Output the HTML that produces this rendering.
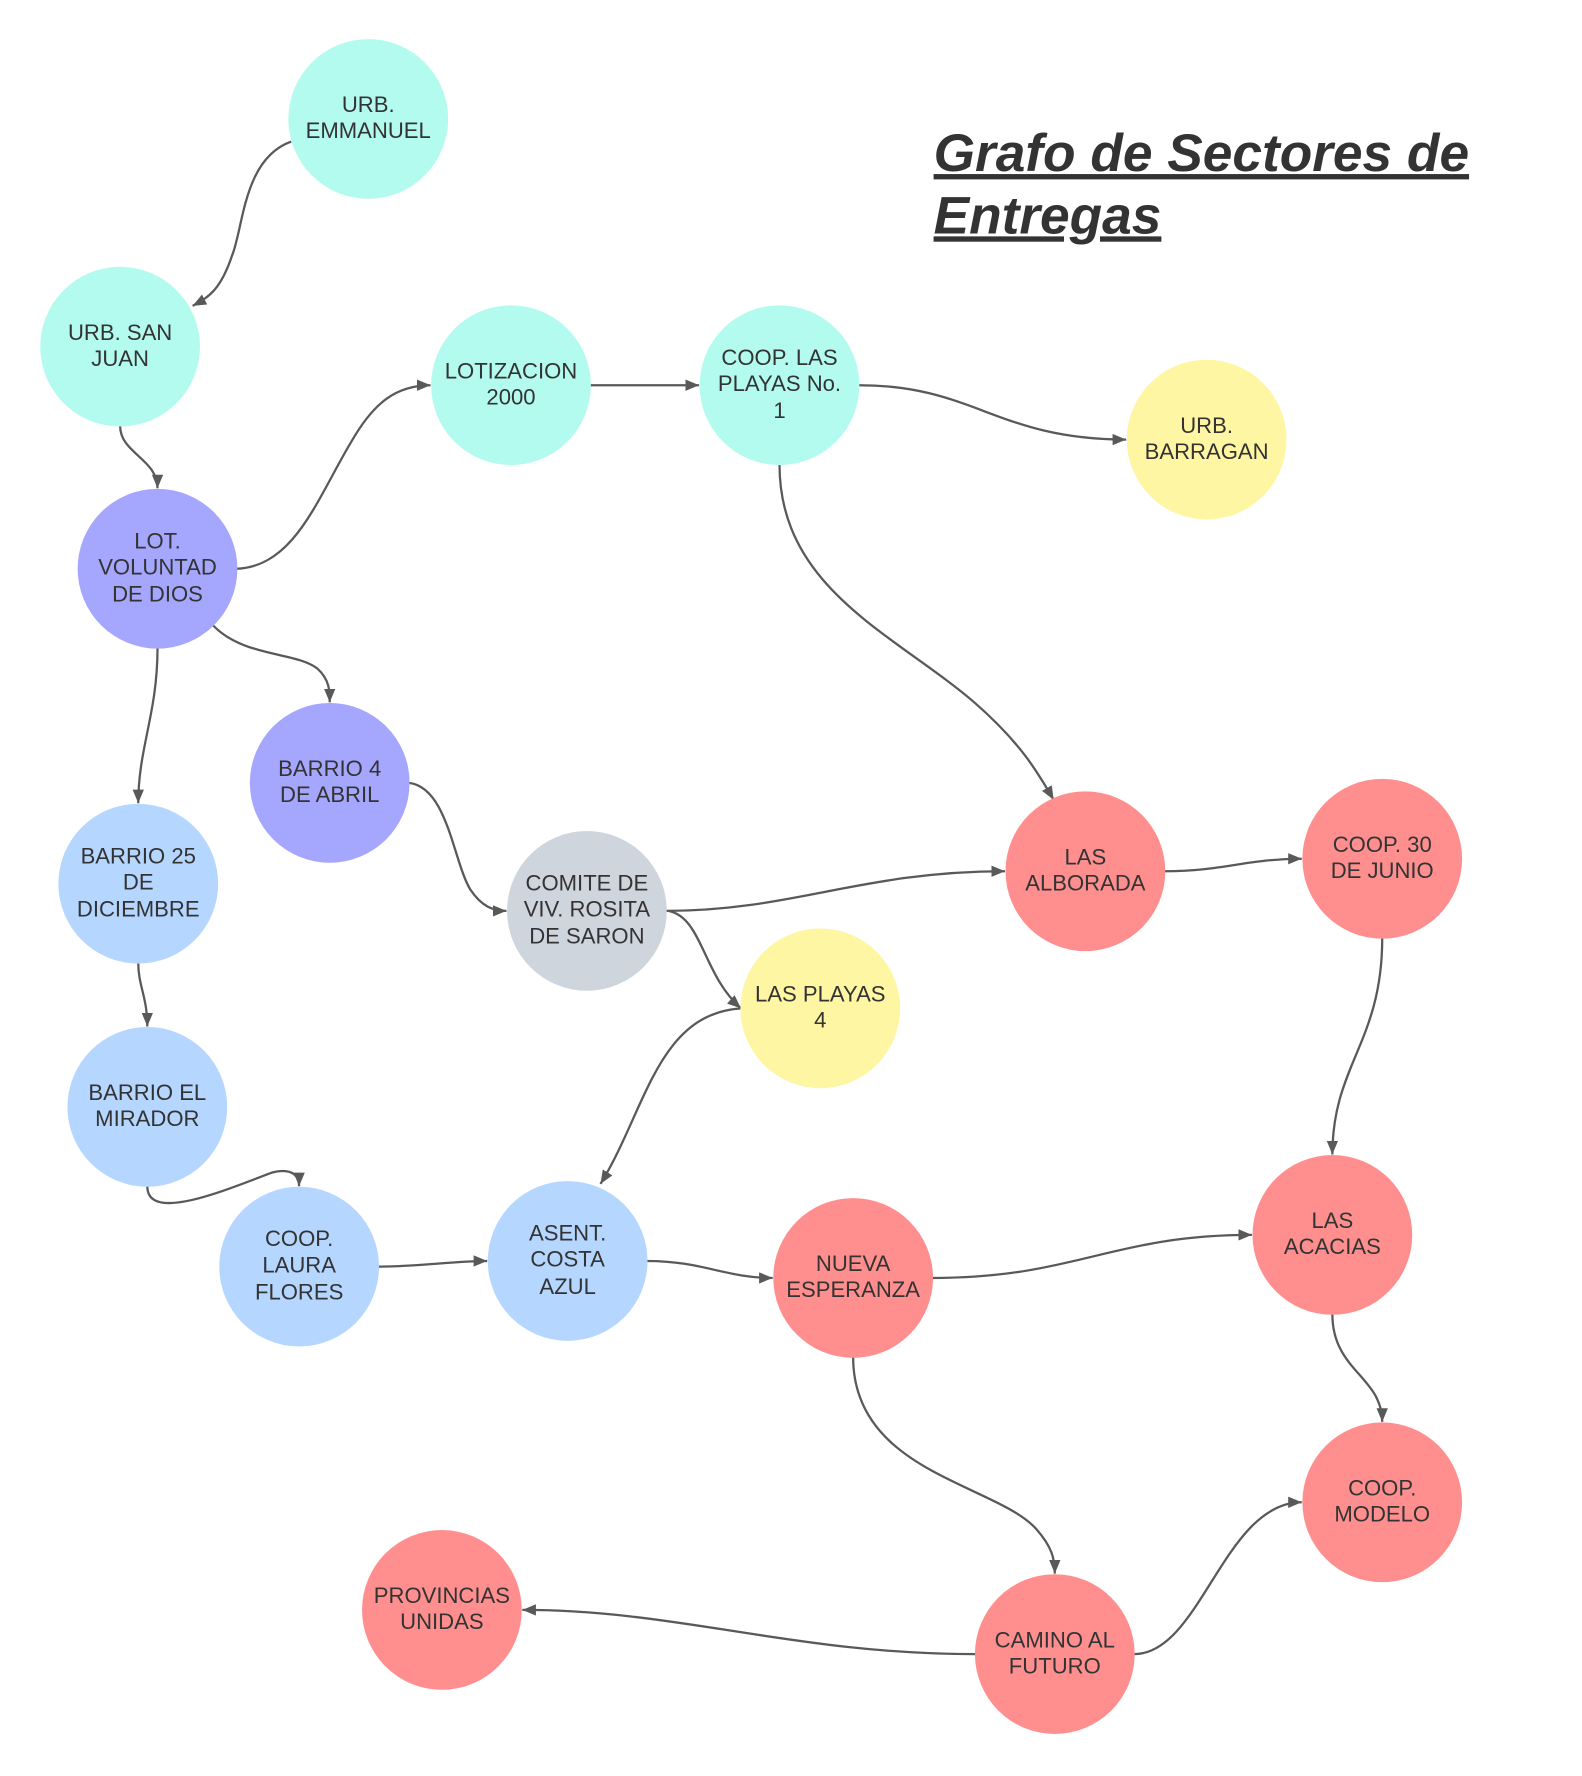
<!DOCTYPE html>
<html><head><meta charset="utf-8"><style>
html,body{margin:0;padding:0;background:#fff;}
svg{display:block;}
text{font-family:"Liberation Sans",Arial,sans-serif;fill:#333;}
.n text{font-size:19.5px;text-anchor:middle;}
path.e{fill:none;stroke:#595959;stroke-width:2;marker-end:url(#a);}
</style></head><body>
<svg width="1582" height="1776" viewBox="0 0 1396.3 1567.6" xmlns="http://www.w3.org/2000/svg">
<defs><marker id="a" viewBox="0 0 12 10" refX="12" refY="5" markerWidth="12" markerHeight="10" markerUnits="userSpaceOnUse" orient="auto"><path d="M0,0 L12,5 L0,10 z" fill="#595959"/></marker></defs>
<rect width="1396.3" height="1567.6" fill="#fff"/>
<g>
<path class="e" d="M257,125 C215,140 215,200 205,225 C195,255 185,262 170,270"/>
<path class="e" d="M106,376 C106,400 139,405 139,431"/>
<path class="e" d="M209,502 C260,500 280,440 310,390 C330,355 350,340 380,340"/>
<path class="e" d="M139,572 C139,630 122,660 122,709"/>
<path class="e" d="M188,552 C215,580 260,575 280,590 C291,600 291,610 291,620"/>
<path class="e" d="M521,340 L617,340"/>
<path class="e" d="M758,340 C860,340 880,388 994,388"/>
<path class="e" d="M688,410 C688,520 790,560 860,620 C900,655 915,680 930,706"/>
<path class="e" d="M361,691 C395,695 400,760 415,785 C425,800 435,804 447,804"/>
<path class="e" d="M588,804 C700,804 760,769 887,769"/>
<path class="e" d="M590,804 C620,810 620,860 654,890"/>
<path class="e" d="M1028,769 C1080,769 1100,758 1149,758"/>
<path class="e" d="M1220,828 C1220,920 1176,940 1176,1019"/>
<path class="e" d="M654,890 C580,895 570,980 530,1045"/>
<path class="e" d="M122,850 C122,870 130,880 130,906"/>
<path class="e" d="M130,1047 C130,1080 200,1050 240,1035 C260,1030 264,1040 264,1047"/>
<path class="e" d="M334,1118 C370,1118 400,1113 430,1113"/>
<path class="e" d="M571,1113 C620,1113 640,1128 682,1128"/>
<path class="e" d="M823,1128 C950,1128 980,1090 1105,1090"/>
<path class="e" d="M1176,1160 C1176,1210 1220,1215 1220,1255"/>
<path class="e" d="M753,1198 C753,1300 880,1310 915,1350 C928,1365 931,1375 931,1389"/>
<path class="e" d="M861,1460 C700,1460 600,1421 461,1421"/>
<path class="e" d="M1001,1460 C1060,1460 1080,1326 1149,1326"/>
</g>
<g class="n">
<circle cx="325" cy="105" r="70.5" fill="#b3fbee"/><text x="325" y="99">URB.</text><text x="325" y="122">EMMANUEL</text>
<circle cx="106" cy="306" r="70.5" fill="#b3fbee"/><text x="106" y="300">URB. SAN</text><text x="106" y="323">JUAN</text>
<circle cx="451" cy="340" r="70.5" fill="#b3fbee"/><text x="451" y="334">LOTIZACION</text><text x="451" y="357">2000</text>
<circle cx="688" cy="340" r="70.5" fill="#b3fbee"/><text x="688" y="322">COOP. LAS</text><text x="688" y="345">PLAYAS No.</text><text x="688" y="369">1</text>
<circle cx="1065" cy="388" r="70.5" fill="#fff6a3"/><text x="1065" y="382">URB.</text><text x="1065" y="405">BARRAGAN</text>
<circle cx="139" cy="502" r="70.5" fill="#a5a6fd"/><text x="139" y="484">LOT.</text><text x="139" y="507">VOLUNTAD</text><text x="139" y="531">DE DIOS</text>
<circle cx="291" cy="691" r="70.5" fill="#a5a6fd"/><text x="291" y="685">BARRIO 4</text><text x="291" y="708">DE ABRIL</text>
<circle cx="122" cy="780" r="70.5" fill="#b5d6ff"/><text x="122" y="762">BARRIO 25</text><text x="122" y="785">DE</text><text x="122" y="809">DICIEMBRE</text>
<circle cx="518" cy="804" r="70.5" fill="#cfd5dd"/><text x="518" y="786">COMITE DE</text><text x="518" y="809">VIV. ROSITA</text><text x="518" y="833">DE SARON</text>
<circle cx="958" cy="769" r="70.5" fill="#ff8f8f"/><text x="958" y="763">LAS</text><text x="958" y="786">ALBORADA</text>
<circle cx="1220" cy="758" r="70.5" fill="#ff8f8f"/><text x="1220" y="752">COOP. 30</text><text x="1220" y="775">DE JUNIO</text>
<circle cx="724" cy="890" r="70.5" fill="#fff6a3"/><text x="724" y="884">LAS PLAYAS</text><text x="724" y="907">4</text>
<circle cx="130" cy="977" r="70.5" fill="#b5d6ff"/><text x="130" y="971">BARRIO EL</text><text x="130" y="994">MIRADOR</text>
<circle cx="264" cy="1118" r="70.5" fill="#b5d6ff"/><text x="264" y="1100">COOP.</text><text x="264" y="1123">LAURA</text><text x="264" y="1147">FLORES</text>
<circle cx="501" cy="1113" r="70.5" fill="#b5d6ff"/><text x="501" y="1095">ASENT.</text><text x="501" y="1118">COSTA</text><text x="501" y="1142">AZUL</text>
<circle cx="753" cy="1128" r="70.5" fill="#ff8f8f"/><text x="753" y="1122">NUEVA</text><text x="753" y="1145">ESPERANZA</text>
<circle cx="1176" cy="1090" r="70.5" fill="#ff8f8f"/><text x="1176" y="1084">LAS</text><text x="1176" y="1107">ACACIAS</text>
<circle cx="1220" cy="1326" r="70.5" fill="#ff8f8f"/><text x="1220" y="1320">COOP.</text><text x="1220" y="1343">MODELO</text>
<circle cx="931" cy="1460" r="70.5" fill="#ff8f8f"/><text x="931" y="1454">CAMINO AL</text><text x="931" y="1477">FUTURO</text>
<circle cx="390" cy="1421" r="70.5" fill="#ff8f8f"/><text x="390" y="1415">PROVINCIAS</text><text x="390" y="1438">UNIDAS</text>
</g>
<g>
<text x="824" y="151" style="font-size:47px;font-weight:bold;font-style:italic;text-decoration:underline">Grafo de Sectores de</text>
<text x="824" y="206" style="font-size:47px;font-weight:bold;font-style:italic;text-decoration:underline">Entregas</text>
</g>
</svg>
</body></html>
